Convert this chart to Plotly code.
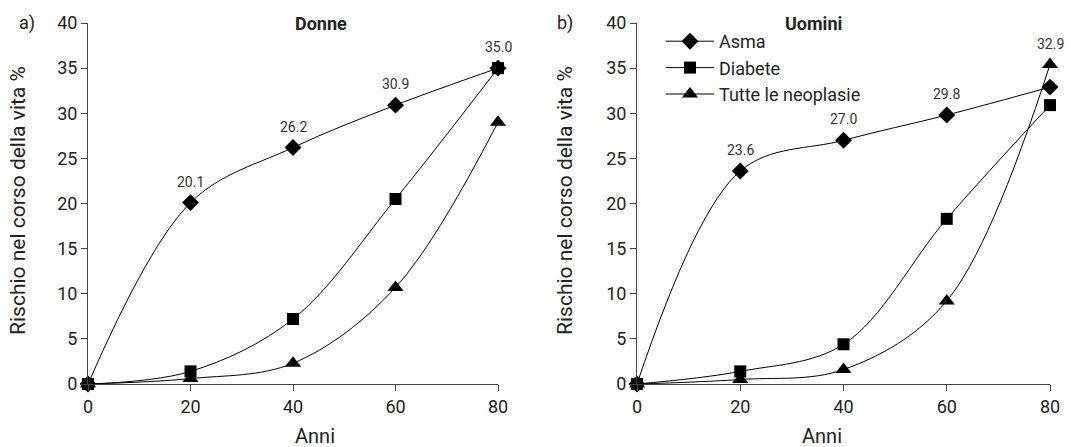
import plotly.graph_objects as go

anni = [0, 20, 40, 60, 80]

donne_asma = [0, 20.1, 26.2, 30.9, 35.0]
donne_diabete = [0, 1.4, 7.2, 20.5, 35.0]
donne_neoplasie = [0, 0.6, 2.3, 10.7, 29.0]

uomini_asma = [0, 23.6, 27.0, 29.8, 32.9]
uomini_diabete = [0, 1.4, 4.4, 18.3, 30.9]
uomini_neoplasie = [0, 0.5, 1.6, 9.2, 35.4]

series_names = ["Asma", "Diabete", "Tutte le neoplasie"]
symbols = ["diamond", "square", "triangle-up"]
marker_sizes = [13, 12, 14]

W, H = 1077, 447
FONT = "Roboto"
TXT = "#222222"
AX = "#444444"

fig = go.Figure()

panels = [
    ("x", "y", [donne_asma, donne_diabete, donne_neoplasie], False),
    ("x2", "y2", [uomini_asma, uomini_diabete, uomini_neoplasie], True),
]

for xa, ya, data, show in panels:
    for name, sym, ms, vals in zip(series_names, symbols, marker_sizes, data):
        fig.add_trace(go.Scatter(
            x=anni, y=vals, name=name, xaxis=xa, yaxis=ya,
            mode="lines+markers",
            line=dict(color="black", width=1, shape="spline", smoothing=1),
            marker=dict(symbol=sym, size=ms, color="black"),
            cliponaxis=False, showlegend=show,
        ))

# data labels for Asma, placed above the highest marker at each age
annotations = []
for xa, ya, data in [("x", "y", panels[0][2]), ("x2", "y2", panels[1][2])]:
    asma = data[0]
    for i, a in enumerate(anni):
        if a == 0:
            continue
        top = max(d[i] for d in data)
        annotations.append(dict(
            x=a, y=top, xref=xa, yref=ya, text=f"{asma[i]:.1f}",
            showarrow=False, yshift=21, font=dict(size=14, color="#333333", family=FONT),
        ))

dom_left = [88 / W, 498 / W]
dom_right = [637 / W, 1050 / W]
ydom = [(H - 384) / H, (H - 23) / H]

axis_common = dict(
    showline=True, linecolor=AX, linewidth=1, showgrid=False, zeroline=False,
    ticks="outside", ticklen=6, tickcolor=AX, automargin=False,
    tickfont=dict(size=18, color=TXT, family=FONT),
)

fig.update_layout(
    width=W, height=H,
    margin=dict(l=0, r=0, t=0, b=0, pad=0),
    paper_bgcolor="white", plot_bgcolor="white",
    font=dict(family=FONT, color=TXT),
    xaxis=dict(domain=dom_left, range=[0, 80], tickvals=[0, 20, 40, 60, 80], anchor="y", **axis_common),
    yaxis=dict(domain=ydom, range=[0, 40], tickvals=list(range(0, 41, 5)), anchor="x", **axis_common),
    xaxis2=dict(domain=dom_right, range=[0, 80], tickvals=[0, 20, 40, 60, 80], anchor="y2", **axis_common),
    yaxis2=dict(domain=ydom, range=[0, 40], tickvals=list(range(0, 41, 5)), anchor="x2", **axis_common),
    legend=dict(
        x=661 / W, y=(H - 23) / H, xanchor="left", yanchor="top",
        font=dict(size=18, color=TXT, family=FONT),
        bgcolor="rgba(0,0,0,0)", tracegroupgap=0, itemwidth=48,
    ),
    showlegend=True,
)

# titles and axis labels
for cx, title, lab, lx, ytx in [
    ((88 + 498) / 2 / W, "Donne", "a)", 17 / W, 18 / W),
    ((637 + 1050) / 2 / W, "Uomini", "b)", 565 / W, 565 / W),
]:
    annotations.append(dict(x=cx, y=(H - 23) / H, xref="paper", yref="paper", text=f"<b>{title}</b>",
                            showarrow=False, yanchor="middle", font=dict(size=18, color=TXT, family=FONT)))
    annotations.append(dict(x=lx, y=(H - 23) / H, xref="paper", yref="paper", text=lab,
                            showarrow=False, yanchor="middle", font=dict(size=18, color=TXT, family=FONT)))
    annotations.append(dict(x=ytx, y=(H - 201) / H, xref="paper", yref="paper", text="Rischio nel corso della vita %",
                            showarrow=False, textangle=-90, xanchor="center", yanchor="middle",
                            font=dict(size=21, color=TXT, family=FONT)))
    annotations.append(dict(x=cx, y=(H - 436) / H, xref="paper", yref="paper", text="Anni",
                            showarrow=False, yanchor="middle", font=dict(size=20, color=TXT, family=FONT)))

fig.update_layout(annotations=annotations)

fig.write_html("out.html")
